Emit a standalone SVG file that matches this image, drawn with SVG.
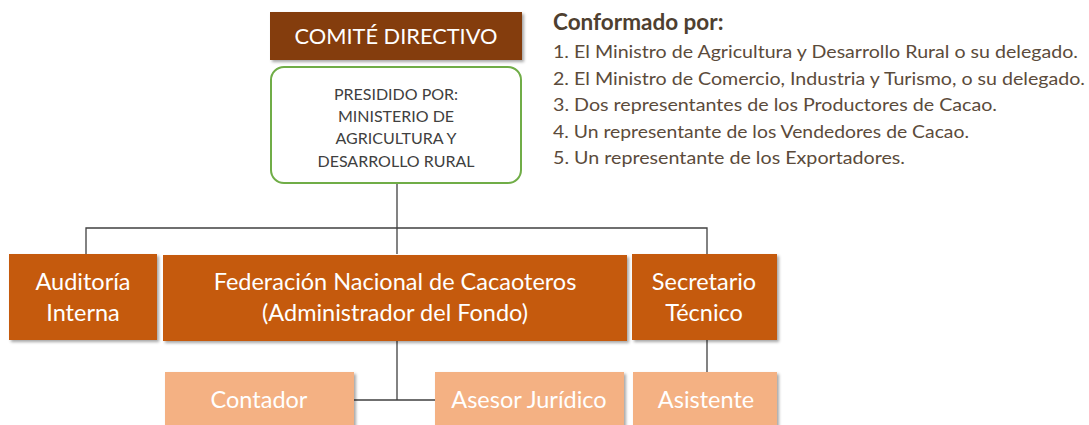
<svg xmlns="http://www.w3.org/2000/svg" width="1089" height="425" viewBox="0 0 1089 425">
<defs>
<filter id="sh" x="-10%" y="-10%" width="125%" height="130%">
<feDropShadow dx="2" dy="2" stdDeviation="1.8" flood-color="#000" flood-opacity="0.35"/>
</filter>
<style>
.t{font-family:Lato,"Open Sans","Liberation Sans",sans-serif;text-anchor:middle;fill:#fff}
.b{font-size:23.5px}
.g{font-family:Lato,"Open Sans","Liberation Sans",sans-serif;text-anchor:middle;fill:#404040;font-size:16px}
.dark{fill:#C55A11;filter:url(#sh)}
.light{fill:#F4B183;filter:url(#sh)}
.ln{stroke:#404040;stroke-width:1.3;fill:none}
.h{font-family:Lato,"Open Sans","Liberation Sans",sans-serif;fill:#4E3F30;font-size:22.5px;font-weight:bold}
.li{font-family:Lato,"Open Sans","Liberation Sans",sans-serif;fill:#5B4B3B;font-size:17.5px}
</style>
</defs>
<rect width="1089" height="425" fill="#fff"/>
<g id="connectors">
<path class="ln" d="M397,183 V254"/>
<path class="ln" d="M86,254 V228 H707 V254"/>
<path class="ln" d="M397,341 V400 M354,400 H435"/>
<path class="ln" d="M707,340 V372"/>
</g>
<g id="comite">
<rect x="270" y="12" width="252" height="48" fill="#843C0C" filter="url(#sh)"/>
<text class="t" x="396" y="44" font-size="21.5" textLength="203" lengthAdjust="spacingAndGlyphs">COMITÉ DIRECTIVO</text>
</g>
<g id="presidido">
<rect x="271" y="67" width="250" height="116" rx="13" fill="#fff" stroke="#70AD47" stroke-width="2"/>
<text class="g" x="396" y="100">PRESIDIDO POR:</text>
<text class="g" x="396" y="122">MINISTERIO DE</text>
<text class="g" x="396" y="144">AGRICULTURA Y</text>
<text class="g" x="396" y="167">DESARROLLO RURAL</text>
</g>
<g id="auditoria">
<rect class="dark" x="9" y="254" width="148" height="86"/>
<text class="t b" x="83" y="290">Auditoría</text>
<text class="t b" x="83" y="321">Interna</text>
</g>
<g id="federacion">
<rect class="dark" x="163" y="255" width="464" height="86"/>
<text class="t b" x="395" y="290">Federación Nacional de Cacaoteros</text>
<text class="t b" x="395" y="321">(Administrador del Fondo)</text>
</g>
<g id="secretario">
<rect class="dark" x="632" y="254" width="145" height="86"/>
<text class="t b" x="704" y="290">Secretario</text>
<text class="t b" x="704" y="321">Técnico</text>
</g>
<g id="contador">
<rect class="light" x="165" y="372" width="189" height="60"/>
<text class="t b" x="259" y="408">Contador</text>
</g>
<g id="asesor">
<rect class="light" x="435" y="372" width="189" height="60"/>
<text class="t b" x="529" y="408">Asesor Jurídico</text>
</g>
<g id="asistente">
<rect class="light" x="633" y="372" width="144" height="60"/>
<text class="t b" x="706" y="408">Asistente</text>
</g>
<g id="conformado">
<text class="h" x="553" y="30">Conformado por:</text>
<text class="li" x="553" y="58" textLength="525" lengthAdjust="spacingAndGlyphs">1. El Ministro de Agricultura y Desarrollo Rural o su delegado.</text>
<text class="li" x="553" y="84.5" textLength="532" lengthAdjust="spacingAndGlyphs">2. El Ministro de Comercio, Industria y Turismo, o su delegado.</text>
<text class="li" x="553" y="111" textLength="444" lengthAdjust="spacingAndGlyphs">3. Dos representantes de los Productores de Cacao.</text>
<text class="li" x="553" y="137.5" textLength="416" lengthAdjust="spacingAndGlyphs">4. Un representante de los Vendedores de Cacao.</text>
<text class="li" x="553" y="164" textLength="352" lengthAdjust="spacingAndGlyphs">5. Un representante de los Exportadores.</text>
</g>
</svg>
